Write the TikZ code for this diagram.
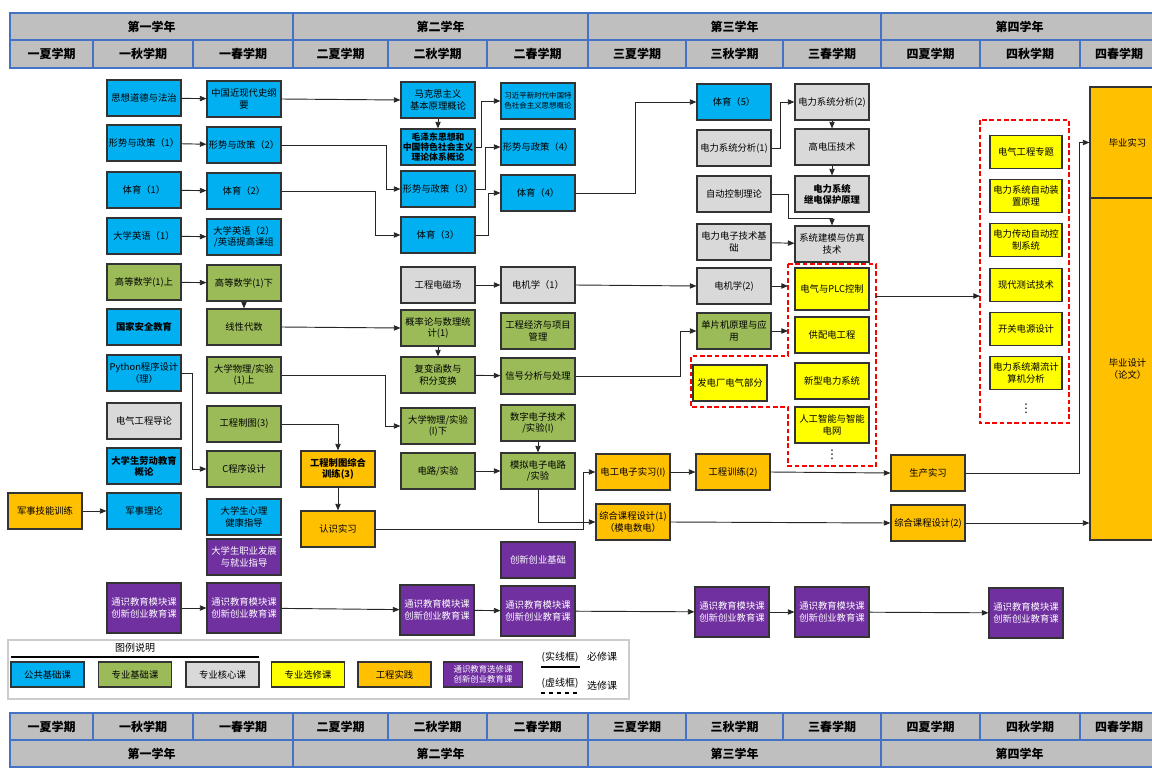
\documentclass[tikz,border=0pt]{standalone}
\usepackage{fontspec}
\setmainfont{Noto Sans CJK SC}
\newfontfamily\symfont{DejaVu Sans}
\usetikzlibrary{arrows.meta}

\definecolor{pubblue}{HTML}{00B0F0}
\definecolor{basegreen}{HTML}{9BBB59}
\definecolor{coregray}{HTML}{D9D9D9}
\definecolor{optyellow}{HTML}{FFFF00}
\definecolor{pracorange}{HTML}{FFC000}
\definecolor{genpurple}{HTML}{7030A0}
\definecolor{headgray}{HTML}{BFBFBF}
\definecolor{headblue}{HTML}{4472C4}

\begin{document}
\begin{tikzpicture}[
  x=0.75pt,
  y=-0.75pt,
  course/.style={draw=black!80, line width=0.8pt, minimum width=55.5pt,
    minimum height=27pt, inner sep=0.5pt, align=center,
    font=\fontsize{7}{8.6}\selectfont},
  strong/.style={font=\fontsize{7}{8.2}\selectfont\bfseries},
  pub box/.style={course, fill=pubblue},
  base box/.style={course, fill=basegreen},
  core box/.style={course, fill=coregray},
  opt box/.style={course, fill=optyellow},
  prac box/.style={course, fill=pracorange},
  gen box/.style={course, fill=genpurple, text=white, minimum height=37.5pt},
  ele box/.style={opt box, minimum width=54pt, minimum height=25pt},
  swatch/.style={minimum width=54.75pt, minimum height=18.75pt},
  head cell/.style={draw=headblue, line width=0.8pt, fill=headgray},
  head text/.style={font=\fontsize{9}{10}\selectfont\bfseries},
  flow/.style={-{Triangle[length=5pt,width=4pt]}, line width=0.7pt, draw=black!85},
  opt frame/.style={draw=red, line width=0.8pt, dash pattern=on 3.5pt off 2pt}
]
  \useasboundingbox (0,0) rectangle (1152,767);

  % Semester and year header, repeated at the foot of the chart.
  \foreach \xa/\xb/\name [count=\i] in {
    10/93/一夏学期, 93/193/一秋学期, 193/293/一春学期,
    293/388/二夏学期, 388/487/二秋学期, 487/588/二春学期,
    588/686/三夏学期, 686/783/三秋学期, 783/881/三春学期,
    881/980/四夏学期, 980/1080/四秋学期, 1080/1158/四春学期
  } {
    \draw[head cell] (\xa,40) rectangle (\xb,68);
    \node[head text] (semtop\i) at ({(\xa+\xb)/2},54) {\name};
    \draw[head cell] (\xa,713) rectangle (\xb,740);
    \node[head text] (sembot\i) at ({(\xa+\xb)/2},727) {\name};
  }
  \foreach \xa/\xb/\name [count=\i] in {
    10/293/第一学年, 293/588/第二学年, 588/881/第三学年, 881/1158/第四学年
  } {
    \draw[head cell] (\xa,13) rectangle (\xb,40);
    \node[head text] (yeartop\i) at ({(\xa+\xb)/2},27) {\name};
    \draw[head cell] (\xa,740) rectangle (\xb,767);
    \node[head text] (yearbot\i) at ({(\xa+\xb)/2},754) {\name};
  }

  % First year.
  \node[prac box] (jsjn) at (45,511) {军事技能训练};
  \node[pub box] (szdd) at (144,98) {思想道德与法治};
  \node[pub box] (xs1) at (144,143) {形势与政策（1）};
  \node[pub box] (ty1) at (144,190) {体育（1）};
  \node[pub box] (yy1) at (144,236) {大学英语（1）};
  \node[base box] (gs1) at (144,282) {高等数学(1)上};
  \node[pub box, strong] (gjaq) at (144,327) {国家安全教育};
  \node[pub box] (py) at (144,373) {Python程序设计\\（理）};
  \node[core box] (dqdl) at (144,421) {电气工程导论};
  \node[pub box, strong] (ldjy) at (144,466) {大学生劳动教育\\概论};
  \node[pub box] (jsll) at (144,511) {军事理论};
  \node[gen box] (ts1) at (144,608) {通识教育模块课\\创新创业教育课};

  \node[pub box] (zgjx) at (244,99) {中国近现代史纲\\要};
  \node[pub box] (xs2) at (244,145) {形势与政策（2）};
  \node[pub box] (ty2) at (244,191) {体育（2）};
  \node[pub box] (yy2) at (244,237) {大学英语（2）\\/英语提高课组};
  \node[base box] (gs2) at (244,283) {高等数学(1)下};
  \node[base box] (xd) at (244,327) {线性代数};
  \node[base box] (wl1) at (244,375) {大学物理/实验\\(1)上};
  \node[base box] (zt) at (244,424) {工程制图(3)};
  \node[base box] (cpro) at (244,469) {C程序设计};
  \node[pub box] (xl) at (244,517) {大学生心理\\健康指导};
  \node[gen box, minimum height=27pt] (zy) at (244,557) {大学生职业发展\\与就业指导};
  \node[gen box] (ts2) at (244,608) {通识教育模块课\\创新创业教育课};

  % Second year.
  \node[prac box, strong] (ztzh) at (338,469) {工程制图综合\\训练(3)};
  \node[prac box] (rssx) at (338,529) {认识实习};

  \node[pub box] (mks) at (438,100) {马克思主义\\基本原理概论};
  \node[pub box, font=\fontsize{6.6}{7.6}\selectfont\bfseries] (mzd) at (438,147)
    {毛泽东思想和\\中国特色社会主义\\理论体系概论};
  \node[pub box] (xs3) at (438,189) {形势与政策（3）};
  \node[pub box] (ty3) at (438,235) {体育（3）};
  \node[core box] (dcc) at (438,285) {工程电磁场};
  \node[base box] (gl) at (438,328) {概率论与数理统\\计(1)};
  \node[base box] (fb) at (438,375) {复变函数与\\积分变换};
  \node[base box] (wl2) at (438,426) {大学物理/实验\\(I)下};
  \node[base box] (dl) at (438,471) {电路/实验};
  \node[gen box] (ts3) at (437,610) {通识教育模块课\\创新创业教育课};

  \node[pub box, font=\fontsize{5.6}{7.5}\selectfont] (xjp) at (538,101)
    {习近平新时代中国特\\色社会主义思想概论};
  \node[pub box] (xs4) at (538,147) {形势与政策（4）};
  \node[pub box] (ty4) at (538,193) {体育（4）};
  \node[core box] (dj1) at (538,285) {电机学（1）};
  \node[base box] (gjxm) at (538,331) {工程经济与项目\\管理};
  \node[base box] (xh) at (538,376) {信号分析与处理};
  \node[base box] (sd) at (538,423) {数字电子技术\\/实验(I)};
  \node[base box] (md) at (538,471) {模拟电子电路\\/实验};
  \node[gen box, minimum height=27pt] (cxjc) at (538,560) {创新创业基础};
  \node[gen box] (ts4) at (538,611) {通识教育模块课\\创新创业教育课};

  % Third year.
  \node[prac box] (dgsx) at (633,472) {电工电子实习(I)};
  \node[prac box] (zk1) at (633,522) {综合课程设计(1)\\（模电数电）};

  \node[pub box] (ty5) at (734,102) {体育（5）};
  \node[core box] (xt1) at (734,148) {电力系统分析(1)};
  \node[core box] (zk) at (734,194) {自动控制理论};
  \node[core box] (dz) at (734,242) {电力电子技术基\\础};
  \node[core box] (dj2) at (734,286) {电机学(2)};
  \node[base box] (dpj) at (734,331) {单片机原理与应\\用};
  \node[opt box] (fdc) at (730,383) {发电厂电气部分};
  \node[prac box] (gx2) at (733,472) {工程训练(2)};
  \node[gen box] (ts5) at (732,612) {通识教育模块课\\创新创业教育课};

  \node[core box] (xt2) at (832,102) {电力系统分析(2)};
  \node[core box] (gdy) at (832,147) {高电压技术};
  \node[core box, strong] (jb) at (832,194) {电力系统\\继电保护原理};
  \node[core box] (jm) at (832,244) {系统建模与仿真\\技术};
  \node[opt box, minimum height=31.5pt] (plc) at (832,289) {电气与PLC控制};
  \node[opt box] (gpd) at (832,335) {供配电工程};
  \node[opt box] (xx) at (832,381) {新型电力系统};
  \node[opt box] (ai) at (832,425) {人工智能与智能\\电网};
  \node[font=\symfont\fontsize{9}{10}\selectfont] (optmore) at (832,455) {⋮};
  \node[gen box] (ts6) at (832,612) {通识教育模块课\\创新创业教育课};

  % Optional courses of the third year share one dashed frame.
  \draw[opt frame] (788,264) -- (876,264) -- (876,466) -- (788,466) --
    (788,407) -- (691,407) -- (691,356) -- (788,356) -- cycle;
  \coordinate (optleft) at (788,264);
  \coordinate (optout) at (876,296);

  % Fourth year.
  \node[prac box] (scsx) at (928,473) {生产实习};
  \node[prac box] (zk2) at (928,523) {综合课程设计(2)};

  \node[ele box] (el1) at (1026,152) {电气工程专题};
  \node[ele box] (el2) at (1026,196) {电力系统自动装\\置原理};
  \node[ele box] (el3) at (1026,240) {电力传动自动控\\制系统};
  \node[ele box] (el4) at (1026,285) {现代测试技术};
  \node[ele box] (el5) at (1026,329) {开关电源设计};
  \node[ele box] (el6) at (1026,373) {电力系统潮流计\\算机分析};
  \node[font=\symfont\fontsize{9}{10}\selectfont] (elemore) at (1026,409) {⋮};
  \node[gen box] (ts7) at (1026,613) {通识教育模块课\\创新创业教育课};
  \draw[opt frame] (980,120) rectangle (1069,423);
  \coordinate (eleleft) at (980,120);

  \node[prac box, minimum width=56.25pt, minimum height=83.25pt] (bysx)
    at (1127.5,142.5) {毕业实习};
  \node[prac box, minimum width=56.25pt, minimum height=256.5pt] (bysj)
    at (1127.5,369) {毕业设计\\（论文）};

  % Prerequisite chains.
  \draw[flow] (jsjn) -- (jsll);
  \draw[flow] (szdd) -- (zgjx);
  \draw[flow] (xs1) -- (xs2);
  \draw[flow] (ty1) -- (ty2);
  \draw[flow] (yy1) -- (yy2);
  \draw[flow] (gs1) -- (gs2);
  \draw[flow] (gs2) -- (xd);
  \draw[flow] (py.east) -- ++(11,0) |- (cpro.west);
  \draw[flow] (zgjx.east) -- (mks.west);
  \draw[flow] (mks) -- (mzd);
  \draw[flow] (xs2.east) -- ++(105,0) |- (xs3.west);
  \draw[flow] (ty2.east) -- ++(94,0) |- (ty3.west);
  \draw[flow] (xd.east) -- (gl.west);
  \draw[flow] (wl1.east) -- ++(104,0) |- (wl2.west);
  \draw[flow] (zt.east) -| (ztzh.north);
  \draw[flow] (ztzh) -- (rssx);
  \draw[flow] (gl) -- (fb);
  \draw[flow] (mzd.east) -- ++(6,0) |- (xjp.west);
  \draw[flow] (xs3.east) -- ++(10,0) |- (xs4.west);
  \draw[flow] (ty3.east) -- ++(13,0) |- (ty4.west);
  \draw[flow] (dcc) -- (dj1);
  \draw[flow] (fb) -- (xh);
  \draw[flow] (sd) -- (md);
  \draw[flow] (dl) -- (md);
  \draw[flow] (md.south) |- (zk1.west);
  \draw[flow] (rssx.east) -- ++(208,0) |- (dgsx.west);
  \draw[flow] (ty4.east) -- ++(60,0) |- (ty5.west);
  \draw[flow] (dj1.east) -- (dj2.west);
  \draw[flow] (xh.east) -- ++(105,0) |- (dpj.west);
  \draw[flow] (xt1.east) -- ++(9,0) |- (xt2.west);
  \draw[flow] (xt2) -- (gdy);
  \draw[flow] (gdy) -- (jb);
  \draw[flow] (zk.east) -- ++(17,0) -- ++(0,24) -| (jm.north);
  \draw[flow] (dz) -- (jm);
  \draw[flow] (dj2.east) -- (dj2.east -| optleft);
  \draw[flow] (dpj.east) -- (dpj.east -| optleft);
  \draw[flow] (optout) -- (optout -| eleleft);
  \draw[flow] (dgsx) -- (gx2);
  \draw[flow] (gx2.east) -- (scsx.west);
  \draw[flow] (zk1.east) -- (zk2.west);
  \draw[flow] (scsx.east) -- ++(114,0) |- (bysx.west);
  \draw[flow] (zk2.east) -- (zk2.east -| bysj.west);
  \draw[flow] (ts1) -- (ts2);
  \draw[flow] (ts2) -- (ts3);
  \draw[flow] (ts3) -- (ts4);
  \draw[flow] (ts4) -- (ts5);
  \draw[flow] (ts5) -- (ts6);
  \draw[flow] (ts6) -- (ts7);

  % Legend.
  \draw[black!20, line width=1pt] (8,640) rectangle (629,699);
  \node[font=\fontsize{7.5}{9}\selectfont] (legtitle) at (135,648) {图例说明};
  \draw[line width=0.8pt] (11,657) -- (259,657);
  \node[pub box, swatch] (legpub) at (47.5,674.5) {公共基础课};
  \node[base box, swatch] (legbase) at (135,674.5) {专业基础课};
  \node[core box, swatch] (legcore) at (222.5,674.5) {专业核心课};
  \node[opt box, swatch] (legopt) at (308,674.5) {专业选修课};
  \node[prac box, swatch] (legprac) at (394.5,674.5) {工程实践};
  \node[gen box, swatch, minimum width=59pt, font=\fontsize{6.3}{7.5}\selectfont]
    (leggen) at (483,674.5) {通识教育选修课\\创新创业教育课};
  \node[font=\fontsize{7.5}{9}\selectfont] (legsolid) at (560,657) {(实线框)};
  \node[font=\fontsize{7.5}{9}\selectfont] (legmust) at (602,657) {必修课};
  \draw[line width=0.8pt] (541,667) -- (580,667);
  \node[font=\fontsize{7.5}{9}\selectfont] (legdash) at (560,683) {(虚线框)};
  \node[font=\fontsize{7.5}{9}\selectfont] (legelec) at (602,686) {选修课};
  \draw[line width=0.8pt, dashed] (541,693) -- (580,693);
\end{tikzpicture}
\end{document}
